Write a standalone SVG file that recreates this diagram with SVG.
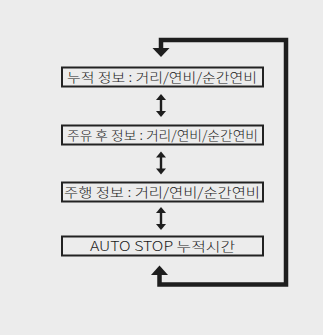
<svg xmlns="http://www.w3.org/2000/svg" width="323" height="335" viewBox="0 0 323 335">
<defs>
<style>
.box{fill:none;stroke:#222;stroke-width:2}
.t{font-family:"Noto Sans CJK KR","Noto Sans",sans-serif;font-size:13px;font-weight:300;fill:#1a1a1a}
.loop{fill:none;stroke:#1e1e1e;stroke-width:4.5;stroke-linejoin:miter}
.dbl{stroke:#1e1e1e;stroke-width:2.4}
.head{fill:#1e1e1e}
</style>
</defs>
<rect width="323" height="335" fill="#ececec"/>
<g id="connectors">
<polyline class="loop" points="161,48 161,40 286,40 286,284.5 159.5,284.5 159.5,274"/>
<polygon class="head" points="152.5,48 169.5,48 161,57"/>
<polygon class="head" points="151,275 168,275 159.5,265.5"/>
<g>
<line class="dbl" x1="161" y1="99" x2="161" y2="112"/>
<polygon class="head" points="156,100 166,100 161,94"/>
<polygon class="head" points="156,111 166,111 161,117"/>
</g>
<g>
<line class="dbl" x1="161" y1="157" x2="161" y2="169"/>
<polygon class="head" points="156,157.5 166,157.5 161,151.5"/>
<polygon class="head" points="156,168.5 166,168.5 161,174.5"/>
</g>
<g>
<line class="dbl" x1="161" y1="212" x2="161" y2="225"/>
<polygon class="head" points="156,213 166,213 161,207"/>
<polygon class="head" points="156,224 166,224 161,230"/>
</g>
</g>
<g id="node1">
<rect class="box" x="62" y="67.5" width="201" height="19"/>
<text class="t" x="67" y="82" textLength="190" lengthAdjust="spacingAndGlyphs">누적 정보 : 거리/연비/순간연비</text>
</g>
<g id="node2">
<rect class="box" x="62" y="125.5" width="201" height="19"/>
<text class="t" x="67" y="140" textLength="191" lengthAdjust="spacingAndGlyphs">주유 후 정보 : 거리/연비/순간연비</text>
</g>
<g id="node3">
<rect class="box" x="62" y="182.5" width="201" height="19"/>
<text class="t" x="64" y="197" textLength="196" lengthAdjust="spacingAndGlyphs">주행 정보 : 거리/연비/순간연비</text>
</g>
<g id="node4">
<rect class="box" x="62" y="236.5" width="201" height="19"/>
<text class="t" x="90" y="251" textLength="145" lengthAdjust="spacingAndGlyphs">AUTO STOP 누적시간</text>
</g>
</svg>
